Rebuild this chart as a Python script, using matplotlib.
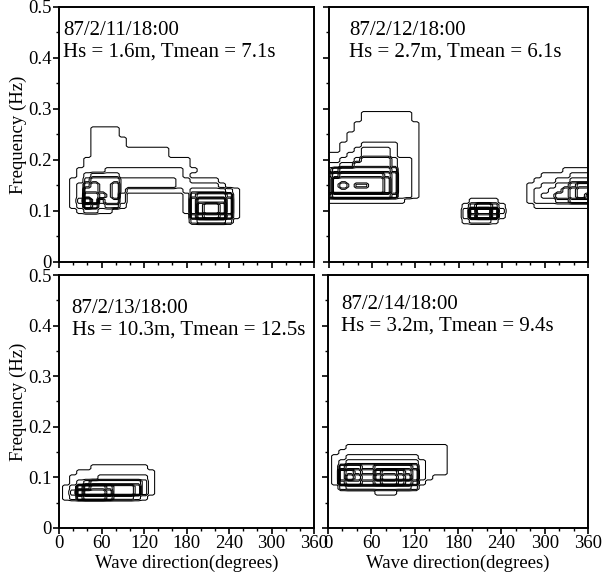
import numpy as np
import matplotlib
matplotlib.use("Agg")
import matplotlib.pyplot as plt
from matplotlib.ticker import MultipleLocator

plt.rcParams['font.family'] = ['Liberation Serif', 'DejaVu Serif']
plt.rcParams['font.size'] = 13.5

# grid of the spectra: direction every 10 deg, frequency every 0.01 Hz
directions = np.arange(0, 361, 10)
frequencies = np.round(np.arange(0, 0.501, 0.01), 2)

# energy level per cell (digit 0-9), rows listed from high to low frequency
# each block: (frequency of first row, rows)
spec_11_top = 0.26
spec_11 = [
    "0000011110000000000000000000000000000",
    "0000011110000000000000000000000000000",
    "0000011111000000000000000000000000000",
    "0000011111000000000000000000000000000",
    "0000011111111111000000000000000000000",
    "0000011111111111000000000000000000000",
    "0000111111111111111000000000000000000",
    "0000111111111111111000000000000000000",
    "0001111222222222221100000000000000000",
    "0001233332222222221000000000000000000",
    "0011344443333333322111100000000000000",
    "0012454453333333322222210000000000000",
    "0012554453111111112333332100000000000",
    "0012665452000000001455554100000000000",
    "0013863442000000001577775100000000000",
    "0012542331000000001589985100000000000",
    "0001221100000000001589985100000000000",
    "0000000000000000000467764100000000000",
    "0000000000000000000233332000000000000",
]

spec_12_top = 0.29
spec_12 = [
    "0000011111110000000000000000000000000",
    "0000011111110000000000000000000000000",
    "0000111111111000000000000000000000000",
    "0000111111111000000000000000000000000",
    "0001111111111000000000000000000000000",
    "0001111111111000000000000000000000000",
    "0011122222111000000000000000000000000",
    "0011233332111000000000000000000000000",
    "1112233332111000000000000000000000000",
    "1122344443221000000000000000000000000",
    "2233444443221000000000000000000000000",
    "3455555554221000000000000000000001111",
    "5677777765221000000000000000001111222",
    "6888888875221000000000000000011122333",
    "6898778875221000000000000000112233455",
    "6888888875221000000000000000122334566",
    "4555555554221000000000000000123344565",
    "1111111111100000000011110000122233444",
    "0000000000000000000134431000011111111",
    "0000000000000000000279962000000000000",
    "0000000000000000000268851000000000000",
    "0000000000000000000122210000000000000",
]

spec_13_top = 0.12
spec_13 = [
    "0000011111111000000000000000000000000",
    "0001111111111100000000000000000000000",
    "0011112222222100000000000000000000000",
    "0012344444443100000000000000000000000",
    "0125788766653100000000000000000000000",
    "0137999866653100000000000000000000000",
    "0124555433321000000000000000000000000",
]

spec_14_top = 0.16
spec_14 = [
    "0001111111111111100000000000000000000",
    "0011111111111111100000000000000000000",
    "0112222222222111100000000000000000000",
    "0123333333333211100000000000000000000",
    "0145544555554211100000000000000000000",
    "0167655788765211100000000000000000000",
    "0168766899875210000000000000000000000",
    "0156655677654100000000000000000000000",
    "0023333333332000000000000000000000000",
    "0000000111000000000000000000000000000",
]

dates = ["87/2/11/18:00", "87/2/12/18:00", "87/2/13/18:00", "87/2/14/18:00"]
hs = [1.6, 2.7, 10.3, 3.2]
tmean = [7.1, 6.1, 12.5, 9.4]
specs = [(spec_11_top, spec_11), (spec_12_top, spec_12),
         (spec_13_top, spec_13), (spec_14_top, spec_14)]
levels = np.concatenate([[0.5, 1.5], np.arange(2.5, 9.1, 0.5)])


def build_grid(top, rows):
    z = np.zeros((len(frequencies), len(directions)))
    for k, row in enumerate(rows):
        i = int(round((top - 0.01 * k) / 0.01))
        z[i, :] = [int(c) for c in row]
    return z


def blocky(z, n=2):
    # nearest-neighbour refinement so the contours follow the cell edges
    zf = np.repeat(np.repeat(z, n, axis=0), n, axis=1)
    sub = (np.arange(n) + 0.5) / n - 0.5
    xf = (directions[:, None] + 10 * sub[None, :]).ravel()
    yf = (frequencies[:, None] + 0.01 * sub[None, :]).ravel()
    return xf, yf, zf


fig = plt.figure(figsize=(6.09, 5.77), dpi=100)
W, H = 609.0, 577.0
boxes = [(59, 7, 255, 255), (329, 7, 259, 255),
         (59, 275, 255, 253), (328, 275, 260, 253)]
text_pos = [(0.016, 0.945), (0.077, 0.945), (0.05, 0.905), (0.05, 0.92)]

for idx, (bx, by, bw, bh) in enumerate(boxes):
    ax = fig.add_axes([bx / W, 1 - (by + bh) / H, bw / W, bh / H])
    top, rows = specs[idx]
    xf, yf, zf = blocky(build_grid(top, rows))
    ax.contour(xf, yf, zf, levels=levels, colors='k', linewidths=0.75)
    ax.set_xlim(0, 360)
    ax.set_ylim(0, 0.5)
    ax.xaxis.set_major_locator(MultipleLocator(60))
    ax.xaxis.set_minor_locator(MultipleLocator(20))
    ax.yaxis.set_major_locator(MultipleLocator(0.1))
    ax.yaxis.set_minor_locator(MultipleLocator(0.05))
    ax.tick_params(which='major', direction='out', length=4, width=1.2, pad=1)
    ax.tick_params(which='minor', direction='out', length=2, width=1.0)
    for s in ax.spines.values():
        s.set_linewidth(1.4)
    if idx % 2 == 0:
        ax.set_yticks([0, 0.1, 0.2, 0.3, 0.4, 0.5])
        ax.set_yticklabels(["0", "0.1", "0.2", "0.3", "0.4", "0.5"])
        ax.set_ylabel("Frequency (Hz)", labelpad=1)
    else:
        ax.set_yticklabels([])
    if idx >= 2:
        ax.set_xticks([0, 60, 120, 180, 240, 300, 360])
        ax.set_xlabel("Wave direction(degrees)", labelpad=2)
    else:
        ax.set_xticklabels([])
    tx, ty = text_pos[idx]
    ax.text(tx, ty, dates[idx] + "\nHs = " + str(hs[idx]) + "m, Tmean = " + str(tmean[idx]) + "s",
            transform=ax.transAxes, ha='left', va='top', linespacing=1.2,
            fontsize=15)

fig.savefig("out.png", dpi=100)
